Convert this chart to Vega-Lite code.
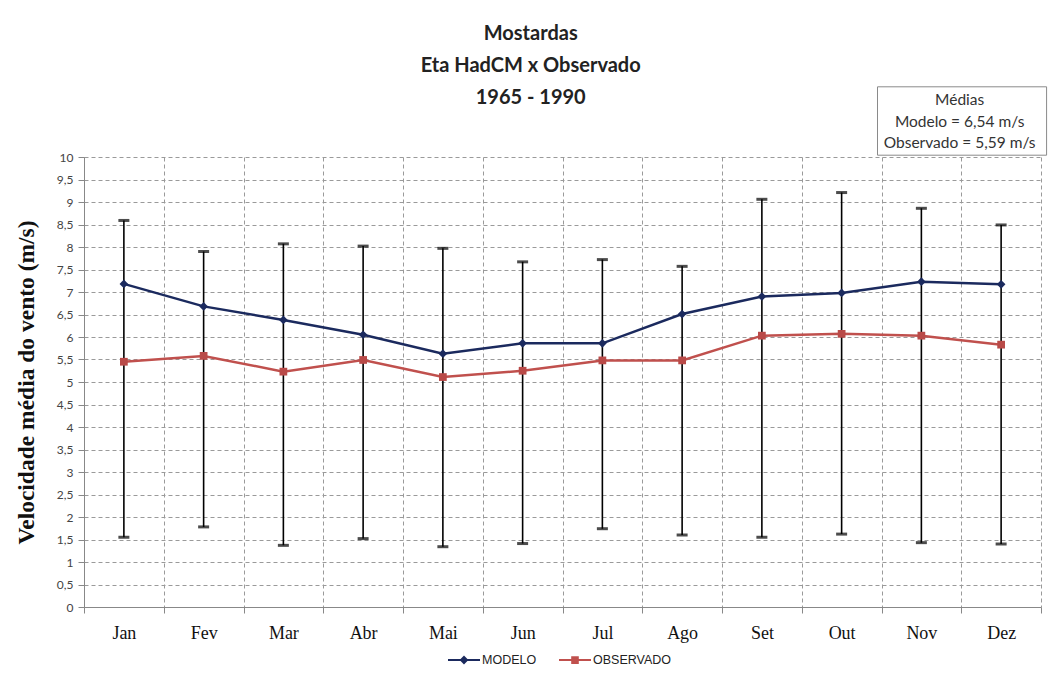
{
  "$schema": "https://vega.github.io/schema/vega-lite/v6.json",
  "width": 957,
  "height": 450,
  "autosize": {"type": "none"},
  "padding": {"left": 84, "top": 157, "right": 18, "bottom": 73},
  "background": "white",
  "title": {
    "text": ["Mostardas", "Eta HadCM  x Observado", "1965 - 1990"],
    "font": "Lato",
    "fontSize": 20,
    "fontWeight": "bold",
    "color": "#222222",
    "lineHeight": 32,
    "anchor": "middle",
    "frame": "bounds",
    "offset": -22
  },
  "config": {
    "view": {"stroke": null},
    "axis": {"gridDash": [4, 3], "gridColor": "#9a9a9a", "gridWidth": 1, "domainColor": "#888888", "tickColor": "#888888"},
    "axisY": {
      "titleFont": "Liberation Serif",
      "titleFontSize": 23.5,
      "titleFontWeight": "bold",
      "titleColor": "#111111",
      "titlePadding": 18,
      "tickCount": 30,
      "labelFont": "Lato",
      "labelFontSize": 12,
      "labelColor": "#444444",
      "labelPadding": 5,
      "labelOverlap": false,
      "tickSize": 6,
      "grid": true
    },
    "legend": {"layout": {"bottom": {"anchor": "middle"}}}
  },
  "datasets": {
    "medias": [
      {"mes": "Jan", "serie": "MODELO", "valor": 7.18},
      {"mes": "Fev", "serie": "MODELO", "valor": 6.68},
      {"mes": "Mar", "serie": "MODELO", "valor": 6.38},
      {"mes": "Abr", "serie": "MODELO", "valor": 6.05},
      {"mes": "Mai", "serie": "MODELO", "valor": 5.63},
      {"mes": "Jun", "serie": "MODELO", "valor": 5.86},
      {"mes": "Jul", "serie": "MODELO", "valor": 5.86},
      {"mes": "Ago", "serie": "MODELO", "valor": 6.51},
      {"mes": "Set", "serie": "MODELO", "valor": 6.9},
      {"mes": "Out", "serie": "MODELO", "valor": 6.98},
      {"mes": "Nov", "serie": "MODELO", "valor": 7.23},
      {"mes": "Dez", "serie": "MODELO", "valor": 7.17},
      {"mes": "Jan", "serie": "OBSERVADO", "valor": 5.45},
      {"mes": "Fev", "serie": "OBSERVADO", "valor": 5.58},
      {"mes": "Mar", "serie": "OBSERVADO", "valor": 5.23},
      {"mes": "Abr", "serie": "OBSERVADO", "valor": 5.49},
      {"mes": "Mai", "serie": "OBSERVADO", "valor": 5.11},
      {"mes": "Jun", "serie": "OBSERVADO", "valor": 5.25},
      {"mes": "Jul", "serie": "OBSERVADO", "valor": 5.48},
      {"mes": "Ago", "serie": "OBSERVADO", "valor": 5.48},
      {"mes": "Set", "serie": "OBSERVADO", "valor": 6.03},
      {"mes": "Out", "serie": "OBSERVADO", "valor": 6.07},
      {"mes": "Nov", "serie": "OBSERVADO", "valor": 6.03},
      {"mes": "Dez", "serie": "OBSERVADO", "valor": 5.83}
    ],
    "barras": [
      {"mes": "Jan", "min": 1.55, "max": 8.59},
      {"mes": "Fev", "min": 1.78, "max": 7.9},
      {"mes": "Mar", "min": 1.37, "max": 8.07},
      {"mes": "Abr", "min": 1.52, "max": 8.02},
      {"mes": "Mai", "min": 1.34, "max": 7.97},
      {"mes": "Jun", "min": 1.41, "max": 7.67},
      {"mes": "Jul", "min": 1.74, "max": 7.72},
      {"mes": "Ago", "min": 1.6, "max": 7.57},
      {"mes": "Set", "min": 1.55, "max": 9.06},
      {"mes": "Out", "min": 1.62, "max": 9.21},
      {"mes": "Nov", "min": 1.43, "max": 8.86},
      {"mes": "Dez", "min": 1.4, "max": 8.49}
    ]
  },
  "layer": [
    {
      "data": {"name": "barras"},
      "mark": {"type": "rule", "color": "#000000", "strokeWidth": 1.6},
      "encoding": {
        "x": {
          "field": "mes",
          "type": "nominal",
          "scale": {"domain": ["Jan", "Fev", "Mar", "Abr", "Mai", "Jun", "Jul", "Ago", "Set", "Out", "Nov", "Dez"], "paddingInner": 0, "paddingOuter": 0},
          "axis": {
            "title": null,
            "tickBand": "extent",
            "grid": true,
            "tickSize": 6,
            "labelAngle": 0,
            "labelFont": "Liberation Serif",
            "labelFontSize": 18,
            "labelColor": "#111111",
            "labelPadding": 11
          }
        },
        "y": {
          "field": "min",
          "type": "quantitative",
          "scale": {"domain": [0, 10], "nice": false},
          "axis": {
            "title": "Velocidade média do vento (m/s)",
            "values": [0, 0.5, 1, 1.5, 2, 2.5, 3, 3.5, 4, 4.5, 5, 5.5, 6, 6.5, 7, 7.5, 8, 8.5, 9, 9.5, 10],
            "tickCount": 30,
            "labelExpr": "replace(toString(datum.value), '.', ',')"
          }
        },
        "y2": {"field": "max"}
      }
    },
    {
      "data": {"name": "barras"},
      "mark": {"type": "tick", "color": "#000000", "thickness": 3, "size": 11},
      "encoding": {
        "x": {"field": "mes", "type": "nominal"},
        "y": {"field": "max", "type": "quantitative"}
      }
    },
    {
      "data": {"name": "barras"},
      "mark": {"type": "tick", "color": "#000000", "thickness": 3, "size": 11},
      "encoding": {
        "x": {"field": "mes", "type": "nominal"},
        "y": {"field": "min", "type": "quantitative"}
      }
    },
    {
      "data": {"name": "medias"},
      "mark": {"type": "line", "strokeWidth": 2.5},
      "encoding": {
        "x": {"field": "mes", "type": "nominal"},
        "y": {"field": "valor", "type": "quantitative"},
        "color": {
          "field": "serie",
          "type": "nominal",
          "scale": {"domain": ["MODELO", "OBSERVADO"], "range": ["#1B2A5E", "#C0504D"]},
          "legend": {
            "title": null,
            "orient": "bottom",
            "direction": "horizontal",
            "offset": 7,
            "labelFont": "Liberation Sans",
            "labelFontSize": 12.5,
            "labelColor": "#222222",
            "symbolSize": 400,
            "columnPadding": 18,
            "labelOffset": 7,
            "encode": {
              "symbols": {
                "update": {
                  "shape": {"signal": "datum.value === 'MODELO' ? 'M-1.6,0H1.6M0,-0.3L0.3,0L0,0.3L-0.3,0Z' : 'M-1.6,0H1.6M-0.28,-0.28H0.28V0.28H-0.28Z'"},
                  "fill": {"signal": "datum.value === 'MODELO' ? '#1B2A5E' : '#C0504D'"},
                  "stroke": {"signal": "datum.value === 'MODELO' ? '#1B2A5E' : '#C0504D'"},
                  "strokeWidth": {"value": 2},
                  "opacity": {"value": 1}
                }
              }
            }
          }
        }
      }
    },
    {
      "data": {"name": "medias"},
      "transform": [{"filter": "datum.serie === 'MODELO'"}],
      "mark": {"type": "point", "filled": true, "size": 75, "opacity": 1, "shape": "diamond", "color": "#1B2A5E"},
      "encoding": {
        "x": {"field": "mes", "type": "nominal"},
        "y": {"field": "valor", "type": "quantitative"}
      }
    },
    {
      "data": {"name": "medias"},
      "transform": [{"filter": "datum.serie === 'OBSERVADO'"}],
      "mark": {"type": "point", "filled": true, "size": 60, "opacity": 1, "shape": "square", "color": "#B94A48"},
      "encoding": {
        "x": {"field": "mes", "type": "nominal"},
        "y": {"field": "valor", "type": "quantitative"}
      }
    },
    {
      "data": {"values": [{}]},
      "mark": {"type": "rect", "fill": "white", "stroke": "#8a8a8a", "strokeWidth": 1},
      "encoding": {
        "x": {"datum": "Nov", "type": "nominal", "bandPosition": -0.05},
        "x2": {"datum": "Dez", "bandPosition": 1.07},
        "y": {"datum": 11.56, "type": "quantitative"},
        "y2": {"datum": 10.04}
      }
    },
    {
      "data": {"values": [{}]},
      "mark": {"type": "text", "text": ["Médias", "Modelo = 6,54 m/s", "Observado = 5,59 m/s"], "font": "Lato", "fontSize": 15.5, "color": "#333333", "align": "center", "baseline": "top", "lineHeight": 21.5},
      "encoding": {
        "x": {"datum": "Dez", "type": "nominal", "bandPosition": -0.02},
        "y": {"datum": 11.42, "type": "quantitative"}
      }
    }
  ]
}
